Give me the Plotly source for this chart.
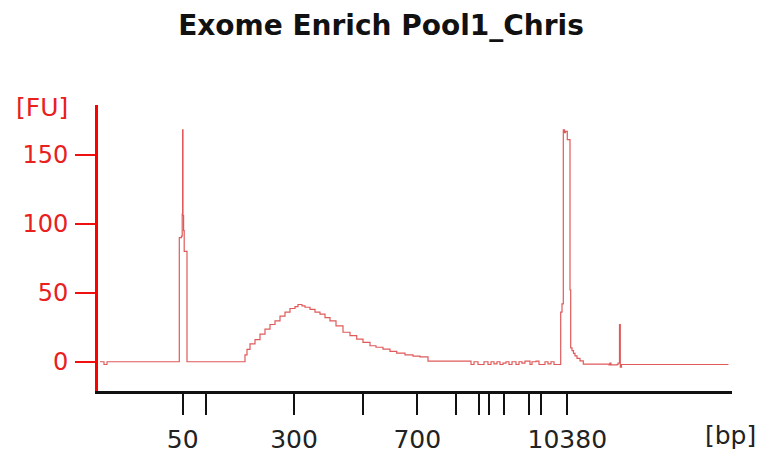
import plotly.graph_objects as go

# ---- data (x = migration time index, y = fluorescence units [FU]) ----
lead_t = [2, 5, 6, 8, 9]
lead_fu = [0, 0, -2, -2, 0]

lower_marker_t = [81.0, 81.3, 83.5, 84.2, 84.6, 85.0, 85.6, 86.2, 88.6, 89.0]
lower_marker_fu = [0, 90, 91, 107, 168, 106, 95, 80, 80, 0]

smear_t = [146, 147, 149, 152, 157, 162, 167, 172, 177, 182, 187, 192, 197, 200,
           204, 207, 212, 217, 222, 227, 232, 238, 245, 252, 258.7, 265, 272, 278,
           285, 292, 298.7, 307, 315, 322, 330]
smear_fu = [0, 5, 9, 13, 16, 20, 23.6, 27, 29.6, 33, 36, 38.6, 40, 41.5,
            40.5, 39.5, 38, 36, 34.5, 32, 29.6, 26, 21.4, 19, 16.4, 14, 11.6, 10.5,
            9.2, 7.5, 6.3, 5, 4.1, 3.5, 0.5]

noise_t = [373, 376, 380, 384, 386, 390, 393, 396, 399, 402, 405, 408, 411, 414,
           418, 421, 424, 427, 432, 434, 438, 441, 444, 447, 450, 453, 456, 460]
noise_fu = [-2, 0, -2, -2, 0, -2, 0, -1.5, 0, -2, -1, 0, -2, 0,
            -2, 0, -1, 0.5, -2, 0, 0.5, -2, -2, 0, -1.5, 0, -2, -2]

upper_marker_t = [462.7, 464, 465.3, 466.5, 467.5, 469.3, 472, 472.7, 474, 475.5,
                  477, 479, 482, 485.3]
upper_marker_fu = [36, 42, 168, 166, 167, 161, 52, 10, 8, 6, 4.3, 2.5, 0.7, -1.7]

tail_t = [511, 512, 513, 519, 520, 521.5, 522.3, 523.5, 630]
tail_fu = [-2.2, -1, -2.2, -2, -1, 27, -4, -2, -2.2]

tick_pos = [84.7, 107.7, 196, 264.7, 319.3, 358, 381, 391.3, 406.3, 431.3, 442.7, 469.3]
tick_text = ["50", "", "300", "", "700", "", "", "", "", "", "", "10380"]
y_ticks = [0, 50, 100, 150]

title_text = "Exome Enrich Pool1_Chris"

time_idx = lead_t + lower_marker_t + smear_t + noise_t + upper_marker_t + tail_t
fluor = lead_fu + lower_marker_fu + smear_fu + noise_fu + upper_marker_fu + tail_fu

fig = go.Figure()
fig.add_trace(go.Scatter(
    x=time_idx, y=fluor, mode="lines", line_shape="hv",
    line=dict(color="#E05A5A", width=1.2), hoverinfo="skip", showlegend=False))

FONT = "DejaVu Sans"
fig.update_layout(
    width=759, height=453,
    margin=dict(l=98, r=27, t=105, b=62),
    paper_bgcolor="white", plot_bgcolor="white",
    title=dict(text="<b>" + title_text + "</b>", x=0.502, xref="container",
               y=0.945, yref="container", xanchor="center", yanchor="middle",
               font=dict(family=FONT, size=28, color="#111111")),
    xaxis=dict(range=[0, 634], showgrid=False, zeroline=False, automargin=False,
               showline=True, linecolor="#111111", linewidth=3,
               tickmode="array", tickvals=tick_pos, ticktext=tick_text,
               ticks="outside", ticklen=21, tickwidth=2, tickcolor="#111111",
               ticklabelstandoff=3,
               tickfont=dict(family=FONT, size=25, color="#222222")),
    yaxis=dict(range=[-21.2, 186.1], showgrid=False, zeroline=False, automargin=False,
               showline=True, linecolor="#FF0000", linewidth=3,
               tickmode="array", tickvals=y_ticks,
               ticks="outside", ticklen=20, tickwidth=2, tickcolor="#F01010",
               ticklabelstandoff=2,
               tickfont=dict(family=FONT, size=24, color="#E8201E")),
    annotations=[
        dict(text="[bp]", xref="paper", yref="paper", x=0.998, y=-0.155,
             xanchor="center", yanchor="middle", showarrow=False,
             font=dict(family=FONT, size=25, color="#222222")),
        dict(text="[FU]", xref="paper", yref="paper", x=-0.088, y=0.99,
             xanchor="center", yanchor="middle", showarrow=False,
             font=dict(family=FONT, size=25, color="#E8201E")),
    ],
)

fig.write_html("out.html")
